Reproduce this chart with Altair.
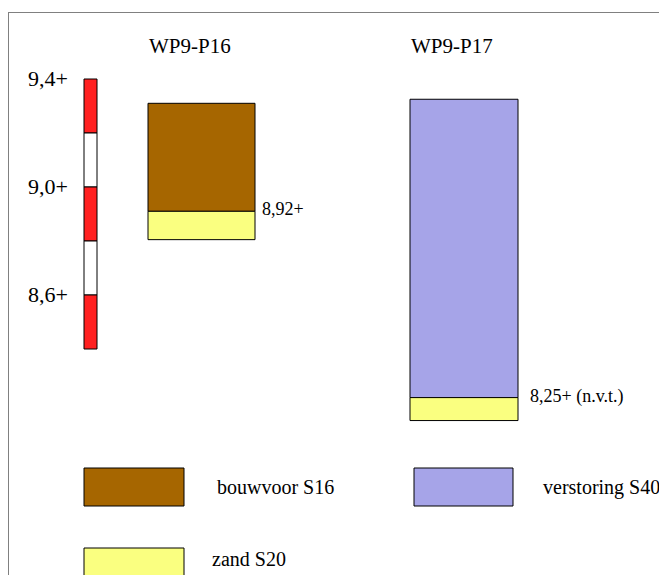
import altair as alt
import pandas as pd

# ---- values ----
profiles = ["WP9-P16", "WP9-P16", "WP9-P17", "WP9-P17"]
units = ["bouwvoor S16", "zand S20", "verstoring S40", "zand S20"]
layer_top = [9.31, 8.91, 9.325, 8.22]
layer_bottom = [8.91, 8.805, 8.22, 8.135]

boundary_profiles = ["WP9-P16", "WP9-P17"]
boundary_levels = [8.91, 8.22]
boundary_labels = ["8,92+", "8,25+ (n.v.t.)"]

scale_top = [9.4, 9.2, 9.0, 8.8, 8.6]
scale_bottom = [9.2, 9.0, 8.8, 8.6, 8.4]
scale_band = ["rood", "wit", "rood", "wit", "rood"]
scale_tick_levels = [9.4, 9.0, 8.6]
scale_tick_labels = ["9,4+", "9,0+", "8,6+"]

legend_units = ["bouwvoor S16", "verstoring S40", "zand S20"]
legend_labels = ["bouwvoor S16", "verstoring S40", "zand  S20"]
unit_colors = ["#A66600", "#A6A4E8", "#FAFF80"]

# ---- layout (pixels in plot area) ----
W, H = 651, 567
PX_PER_M = 270.0
Y_REF, Y_REF_PX = 9.4, 71
y_domain = [Y_REF - (H - Y_REF_PX) / PX_PER_M, Y_REF + Y_REF_PX / PX_PER_M]
col_x = {"WP9-P16": (140, 247), "WP9-P17": (402, 510)}
label_x = {"WP9-P16": 254, "WP9-P17": 522}
bar_x = (76, 89)
tick_label_x = 60
title_y = 39
legend_rect = {"bouwvoor S16": (76, 176, 460, 498),
               "verstoring S40": (406, 505, 460, 498),
               "zand S20": (76, 176, 540, 600)}
legend_text = {"bouwvoor S16": (209, 480), "verstoring S40": (535, 480), "zand S20": (204, 552)}
FONT = "Liberation Serif"

xs = alt.Scale(domain=[0, W], nice=False, zero=False)
ys = alt.Scale(domain=y_domain, nice=False, zero=False)
color = alt.Color("unit:N", scale=alt.Scale(domain=legend_units, range=unit_colors), legend=None)

layers_df = pd.DataFrame({"profile": profiles, "unit": units, "top": layer_top, "bottom": layer_bottom})
layers_df["x0"] = [col_x[p][0] for p in profiles]
layers_df["x1"] = [col_x[p][1] for p in profiles]

bars = alt.Chart(layers_df).mark_rect(stroke="black", strokeWidth=1).encode(
    x=alt.X("x0:Q", scale=xs, axis=None), x2="x1:Q",
    y=alt.Y("top:Q", scale=ys, axis=None), y2="bottom:Q",
    fill=color,
)

titles_df = pd.DataFrame({"profile": ["WP9-P16", "WP9-P17"]})
titles_df["x"] = [col_x[p][0] + 1 for p in titles_df["profile"]]
titles = alt.Chart(titles_df).mark_text(
    align="left", baseline="middle", font=FONT, fontSize=21, color="black"
).encode(x=alt.X("x:Q", scale=xs, axis=None), y=alt.value(title_y), text="profile:N")

bnd_df = pd.DataFrame({"profile": boundary_profiles, "level": boundary_levels, "label": boundary_labels})
bnd_df["x"] = [label_x[p] for p in boundary_profiles]
bnd_text = alt.Chart(bnd_df).mark_text(
    align="left", baseline="middle", font=FONT, fontSize=18, color="black", dy=-1
).encode(x=alt.X("x:Q", scale=xs, axis=None), y=alt.Y("level:Q", scale=ys, axis=None), text="label:N")

scale_df = pd.DataFrame({"top": scale_top, "bottom": scale_bottom, "band": scale_band})
scale_df["x0"] = bar_x[0]
scale_df["x1"] = bar_x[1]
scale_bar = alt.Chart(scale_df).mark_rect(stroke="black", strokeWidth=1).encode(
    x=alt.X("x0:Q", scale=xs, axis=None), x2="x1:Q",
    y=alt.Y("top:Q", scale=ys, axis=None), y2="bottom:Q",
    fill=alt.Fill("band:N", scale=alt.Scale(domain=["rood", "wit"], range=["#FF2020", "#FFFFFF"]), legend=None),
)

tick_df = pd.DataFrame({"level": scale_tick_levels, "label": scale_tick_labels})
tick_df["x"] = tick_label_x
ticks = alt.Chart(tick_df).mark_text(
    align="right", baseline="middle", font=FONT, fontSize=22, color="black"
).encode(x=alt.X("x:Q", scale=xs, axis=None), y=alt.Y("level:Q", scale=ys, axis=None), text="label:N")

leg_df = pd.DataFrame({"unit": legend_units, "label": legend_labels})
leg_df["x0"] = [legend_rect[u][0] for u in legend_units]
leg_df["x1"] = [legend_rect[u][1] for u in legend_units]
leg_df["y0"] = [legend_rect[u][2] for u in legend_units]
leg_df["y1"] = [legend_rect[u][3] for u in legend_units]
leg_df["tx"] = [legend_text[u][0] for u in legend_units]
leg_df["ty"] = [legend_text[u][1] for u in legend_units]
leg_rects = alt.Chart(leg_df).mark_rect(stroke="black", strokeWidth=1).encode(
    x=alt.X("x0:Q", scale=None, axis=None), x2="x1:Q",
    y=alt.Y("y0:Q", scale=None, axis=None), y2="y1:Q",
    fill=color,
)
leg_text = alt.Chart(leg_df).mark_text(
    align="left", baseline="middle", font=FONT, fontSize=20, color="black"
).encode(x=alt.X("tx:Q", scale=None, axis=None), y=alt.Y("ty:Q", scale=None, axis=None), text="label:N")

border_v = alt.Chart(titles_df).mark_rule(color="#808080", strokeWidth=1).encode(
    x=alt.value(0.5), y=alt.value(4), y2=alt.value(H + 20))
border_h = alt.Chart(titles_df).mark_rule(color="#808080", strokeWidth=1).encode(
    x=alt.value(0), x2=alt.value(W + 10), y=alt.value(4.5))

chart = alt.layer(
    border_v, border_h, scale_bar, ticks, bars, titles, bnd_text, leg_rects, leg_text
).resolve_scale(fill="independent").properties(
    width=W, height=H, padding=0, autosize=alt.AutoSizeParams(type="none"), background="white"
).configure_view(stroke=None)

chart.save("out.html", embed_options={"renderer": "svg", "actions": False})
